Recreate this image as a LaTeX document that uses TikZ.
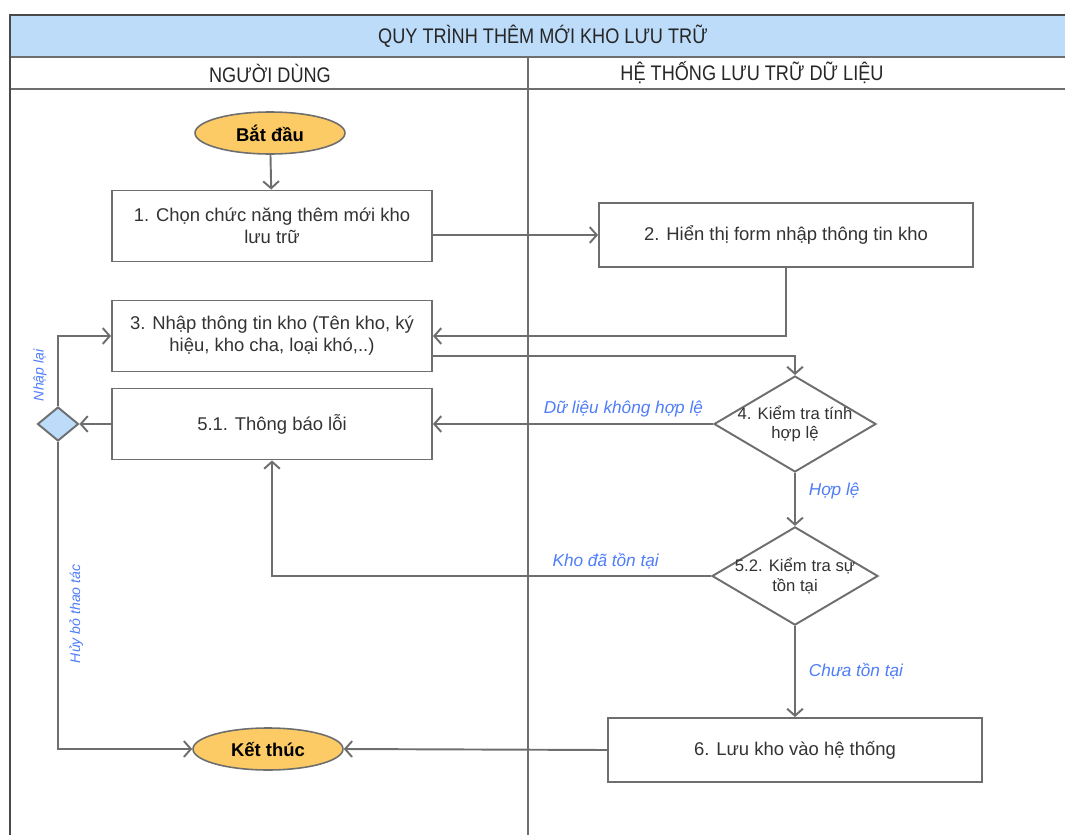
\documentclass[tikz,border=0pt]{standalone}
\usepackage{fontspec}
\setmainfont{Liberation Sans}
\newfontfamily\narrowfont{Liberation Sans}[FakeStretch=0.86]
\usepackage{tikz}
\usetikzlibrary{shapes.geometric, arrows.meta, positioning, calc}
\definecolor{lanehead}{HTML}{BDDCFA}
\definecolor{terminal}{HTML}{FDCB65}
\definecolor{linegray}{HTML}{6E6E6E}
\definecolor{pooledge}{HTML}{4A4A4A}
\definecolor{guard}{HTML}{4F7DF9}

\begin{document}
\begin{tikzpicture}[x=0.02cm, y=-0.02cm,
  task/.style={rectangle, draw=linegray, line width=1.1pt, fill=white, minimum width=6.4cm,
    minimum height=1.42cm, align=center, text=black!80, font=\fontsize{10.5}{12.5}\selectfont},
  term/.style={ellipse, draw=linegray, line width=0.9pt, fill=terminal, minimum width=3cm,
    minimum height=0.84cm, font=\fontsize{10.5}{12}\selectfont\bfseries},
  check/.style={diamond, draw=linegray, line width=1.1pt, fill=white, aspect=1.69,
    inner xsep=-4pt, inner ysep=0pt, minimum width=3.24cm, minimum height=1.92cm,
    align=center, text=black!80, font=\fontsize{9.5}{11}\selectfont},
  gate/.style={diamond, draw=linegray, line width=1.1pt, fill=lanehead, inner sep=0pt,
    minimum width=0.82cm, minimum height=0.68cm},
  lane/.style={font=\narrowfont\fontsize{12}{14}\selectfont, text=black!85},
  cond/.style={font=\fontsize{9.8}{12}\selectfont\itshape, text=guard},
  vcond/.style={font=\fontsize{8}{10}\selectfont\itshape, text=guard, rotate=90, inner sep=6pt},
  arr/.style={-{Straight Barb[length=4pt, width=9pt]}, line width=1.1pt, color=linegray}]

  \useasboundingbox (0,0) rectangle (1065,835);
  \fill[lanehead] (10,15) rectangle (1065,57);
  \draw[linegray, line width=1pt] (10,57) -- (1065,57) (10,89) -- (1065,89) (528,57) -- (528,835);
  \draw[pooledge, line width=1.3pt] (10,835) -- (10,15) -- (1065,15);

  \node[lane] (pool) at (543,36) {QUY TRÌNH THÊM MỚI KHO LƯU TRỮ};
  \node[lane] (user) at (270,73) {NGƯỜI DÙNG};
  \node[lane] (sys) at (752,73) {HỆ THỐNG LƯU TRỮ DỮ LIỆU};

  \node[term] (start) at (270,133) {Bắt đầu};
  \node[task] (chon) at (272,226) {1. Chọn chức năng thêm mới kho\\lưu trữ};
  \node[task, minimum width=7.48cm, minimum height=1.28cm] (form) at (786,235) {2. Hiển thị form nhập thông tin kho};
  \node[task] (nhap) at (272,336) {3. Nhập thông tin kho (Tên kho, ký\\hiệu, kho cha, loại khó,..)};
  \node[task] (loi) at (272,424) {5.1. Thông báo lỗi};
  \node[check] (kt) at (795,424) {4. Kiểm tra tính\\hợp lệ};
  \node[check] (ton) at (795,576) {5.2. Kiểm tra sự\\tồn tại};
  \node[task, minimum width=7.48cm, minimum height=1.28cm] (luu) at (795,750) {6. Lưu kho vào hệ thống};
  \node[term] (stop) at (268,749) {Kết thúc};
  \node[gate] (gw) at (58,424) {};

  \draw[arr] (start) -- (chon);
  \draw[arr] (chon.east |- form.west) -- (form.west);
  \draw[arr] (form.south) |- (nhap.east);
  \draw[arr] ($(nhap.east)+(0,20)$) -| (kt.north);
  \draw[arr] (kt.west) -- (loi.east) node[cond, pos=0.32, above]{Dữ liệu không hợp lệ};
  \draw[arr] (kt) -- (ton) node[cond, pos=0.35, right=4pt]{Hợp lệ};
  \draw[arr] (ton.west) -| (loi.south) node[cond, pos=0.12, above]{Kho đã tồn tại};
  \draw[arr] (ton) -- (luu) node[cond, midway, right=4pt]{Chưa tồn tại};
  \draw[arr] (luu.west) -- (stop.east);
  \draw[arr] (loi) -- (gw);
  \draw[arr] (gw.north) |- (nhap.west) node[vcond, pos=0.22, anchor=south]{Nhập lại};
  \draw[arr] (gw.south) |- (stop.west) node[vcond, pos=0.28, anchor=north]{Hủy bỏ thao tác};
\end{tikzpicture}
\end{document}
